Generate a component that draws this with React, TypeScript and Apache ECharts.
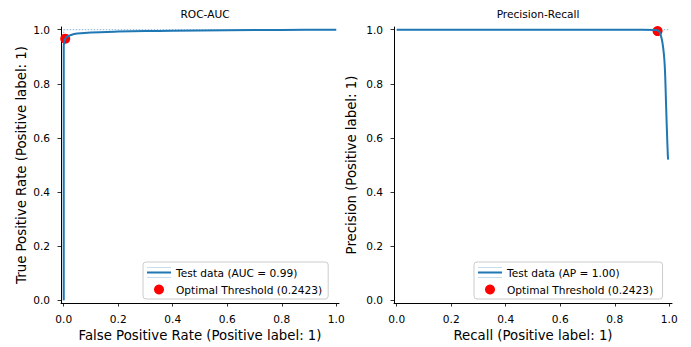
import React, { useEffect, useRef } from "react";
import * as echarts from "echarts";

const rocFpr = [0, 0, 0.002, 0.005, 0.01, 0.02, 0.035, 0.05, 0.1, 0.2, 0.3, 0.4, 0.6, 0.8, 1.0];
const rocTpr = [0, 0.94, 0.955, 0.965, 0.972, 0.978, 0.983, 0.986, 0.99, 0.993, 0.995, 0.996, 0.998, 0.999, 1.0];
const rocOptimal = [0.0055, 0.967];

const prRecall = [0, 0.5, 0.9, 0.95, 0.96, 0.965, 0.973, 0.978, 0.982, 0.985, 0.987, 0.99, 0.993, 0.995, 0.996];
const prPrecision = [1, 1, 1, 0.999, 0.997, 0.99, 0.963, 0.93, 0.889, 0.83, 0.765, 0.667, 0.58, 0.53, 0.52];
const prOptimal = [0.957, 0.995];

const tickValues = [0, 0.2, 0.4, 0.6, 0.8, 1.0];
const rocLegend = ["Test data (AUC = 0.99)", "Optimal Threshold (0.2423)"];
const prLegend = ["Test data (AP = 1.00)", "Optimal Threshold (0.2423) "];

const FONT = "'DejaVu Sans', sans-serif";
const BLUE = "#1f77b4";
const LINE_ICON = "path://M0,0L24,0L24,0.2L0,0.2ZM0,4L24,4L24,6L0,6ZM0,9.8L24,9.8L24,10L0,10Z";
const SMALL = 10.6;
const LARGE = 13.3;

function zip(a: number[], b: number[]) {
  return a.map((v, i) => [v, b[i]]);
}

export default function App() {
  const ref = useRef<HTMLDivElement>(null);
  useEffect(() => {
    const chart = echarts.init(ref.current!, undefined, { renderer: "svg" });
    const axisCommon = (name: string, gap: number, isX: boolean) => ({
      type: "value",
      min: -0.01,
      max: 1.01,
      name,
      nameLocation: "middle",
      nameGap: gap,
      nameTextStyle: { fontFamily: FONT, fontSize: LARGE, color: "#000" },
      axisLine: { show: true, onZero: false, lineStyle: { color: "#000", width: 1 } },
      axisTick: { show: true, customValues: tickValues, length: 3.5, lineStyle: { color: "#000", width: 0.8 } },
      axisLabel: {
        customValues: tickValues,
        fontFamily: FONT,
        fontSize: SMALL,
        color: "#000",
        margin: isX ? 10 : 11,
        formatter: (v: number) => v.toFixed(1),
      },
      splitLine: { show: false },
    });
    const legendCommon = {
      orient: "vertical",
      padding: [5, 6, 4, 4],
      itemWidth: 24,
      itemHeight: 10,
      itemGap: 6,
      borderColor: "#cccccc",
      borderWidth: 1,
      borderRadius: 3,
      backgroundColor: "rgba(255,255,255,0.8)",
      textStyle: { fontFamily: FONT, fontSize: SMALL, color: "#000" },
    };
    const refLine = (xi: number, data: number[][]) => ({
      type: "line",
      xAxisIndex: xi,
      yAxisIndex: xi,
      data,
      symbol: "none",
      silent: true,
      lineStyle: { color: BLUE, width: 1, type: [1.5, 1.5], opacity: 0.55 },
      z: 1,
    });
    const titleStyle = { fontFamily: FONT, fontSize: SMALL, fontWeight: "normal", color: "#000" };
    chart.setOption({
      animation: false,
      backgroundColor: "#fff",
      title: [
        { text: "ROC-AUC", left: 200, top: 3, textAlign: "center", textStyle: titleStyle },
        { text: "Precision-Recall", left: 533, top: 3, textAlign: "center", textStyle: titleStyle },
      ],
      grid: [
        { left: 61, top: 27, width: 278, height: 276 },
        { left: 394, top: 27, width: 278, height: 276 },
      ],
      xAxis: [
        { ...axisCommon("False Positive Rate (Positive label: 1)", 24, true), gridIndex: 0 },
        { ...axisCommon("Recall (Positive label: 1)", 24, true), gridIndex: 1 },
      ],
      yAxis: [
        { ...axisCommon("True Positive Rate (Positive label: 1)", 33, false), gridIndex: 0 },
        { ...axisCommon("Precision (Positive label: 1)", 36, false), gridIndex: 1 },
      ],
      legend: [
        { ...legendCommon, data: [{ name: rocLegend[0], icon: LINE_ICON }, { name: rocLegend[1], icon: "circle" }], left: 143, top: 262 },
        { ...legendCommon, data: [{ name: prLegend[0], icon: LINE_ICON }, { name: prLegend[1], icon: "circle" }], left: 474, top: 262 },
      ],
      series: [
        refLine(0, [[0, 1], [1, 1]]),
        refLine(0, [[0, 0], [0, 1]]),
        refLine(1, [[0, 1], [1, 1]]),
        {
          type: "scatter",
          name: rocLegend[1],
          xAxisIndex: 0,
          yAxisIndex: 0,
          data: [rocOptimal],
          symbolSize: 10,
          itemStyle: { color: "#ff0000", opacity: 1 },
          z: 2,
        },
        {
          type: "line",
          name: rocLegend[0],
          xAxisIndex: 0,
          yAxisIndex: 0,
          data: zip(rocFpr, rocTpr),
          symbol: "none",
          smooth: 0.3,
          lineStyle: { color: BLUE, width: 2 },
          itemStyle: { color: BLUE },
          z: 3,
        },
        {
          type: "scatter",
          name: prLegend[1],
          xAxisIndex: 1,
          yAxisIndex: 1,
          data: [prOptimal],
          symbolSize: 10,
          itemStyle: { color: "#ff0000", opacity: 1 },
          z: 2,
        },
        {
          type: "line",
          name: prLegend[0],
          xAxisIndex: 1,
          yAxisIndex: 1,
          data: zip(prRecall, prPrecision),
          symbol: "none",
          smooth: 0.3,
          lineStyle: { color: BLUE, width: 2 },
          itemStyle: { color: BLUE },
          z: 3,
        },
      ],
    });
    return () => chart.dispose();
  }, []);
  return <div ref={ref} style={{ position: "fixed", left: 0, top: 0, width: 691, height: 347 }} />;
}
